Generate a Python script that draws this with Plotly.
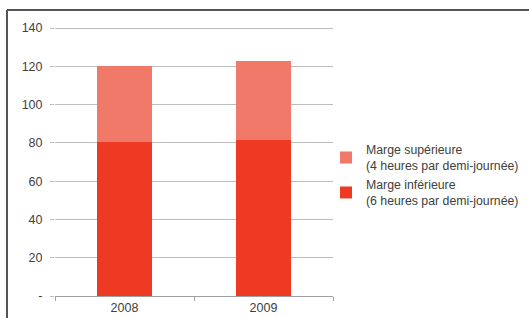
import plotly.graph_objects as go

years = ["2008", "2009"]
marge_inferieure = [80.5, 81.5]
marge_superieure = [39.5, 41.5]
names = ["Marge inférieure<br>(6 heures par demi-journée)",
         "Marge supérieure<br>(4 heures par demi-journée)"]
ytick_vals = [0, 20, 40, 60, 80, 100, 120, 140]
ytick_text = ["-", "20", "40", "60", "80", "100", "120", "140"]

W, H = 529, 318
L, R, T, B = 55, 196, 25, 22
pw, ph = W - L - R, H - T - B
ymax = 140 * ph / 268.0

fig = go.Figure()
fig.add_trace(go.Bar(x=years, y=marge_inferieure, name=names[0],
                     marker=dict(color="#EE3A23", line=dict(width=0))))
fig.add_trace(go.Bar(x=years, y=marge_superieure, name=names[1],
                     marker=dict(color="#F0796A", line=dict(width=0))))

def px_x(x):
    return (x - L) / pw

def px_y(y):
    return (H - B - y) / ph

fig.update_layout(
    width=W, height=H,
    margin=dict(l=L, r=R, t=T, b=B, autoexpand=False),
    barmode="stack", bargap=0.6,
    plot_bgcolor="white", paper_bgcolor="white",
    font=dict(family="Liberation Sans, Arial, sans-serif", size=12.5, color="#404040"),
    showlegend=True,
    legend=dict(x=px_x(326), y=px_y(135), xanchor="left", yanchor="top",
                traceorder="reversed", font=dict(size=12.3, color="#404040"),
                itemwidth=30, tracegroupgap=0, bgcolor="rgba(0,0,0,0)"),
    xaxis=dict(showgrid=False, showline=True, linecolor="#A0A0A0", linewidth=1,
               ticks="outside", tickson="boundaries", ticklen=4, tickcolor="#A0A0A0",
               tickfont=dict(size=12.5, color="#404040")),
    yaxis=dict(range=[0, ymax], tickvals=ytick_vals, ticktext=ytick_text,
               showgrid=True, gridcolor="#BDBDBD", gridwidth=1,
               zeroline=False, showline=False,
               ticks="outside", ticklen=4, tickcolor="#BDBDBD",
               ticklabelstandoff=5,
               tickfont=dict(size=12.5, color="#404040")),
    shapes=[
        dict(type="line", xref="paper", yref="paper",
             x0=px_x(7), x1=px_x(540), y0=px_y(10), y1=px_y(10),
             line=dict(color="#555555", width=2)),
        dict(type="line", xref="paper", yref="paper",
             x0=px_x(7), x1=px_x(7), y0=px_y(10), y1=px_y(330),
             line=dict(color="#555555", width=2)),
    ],
)

fig.write_html("out.html", config={"displayModeBar": False},
               post_script="document.body.style.margin='0';document.body.style.overflow='hidden';")
